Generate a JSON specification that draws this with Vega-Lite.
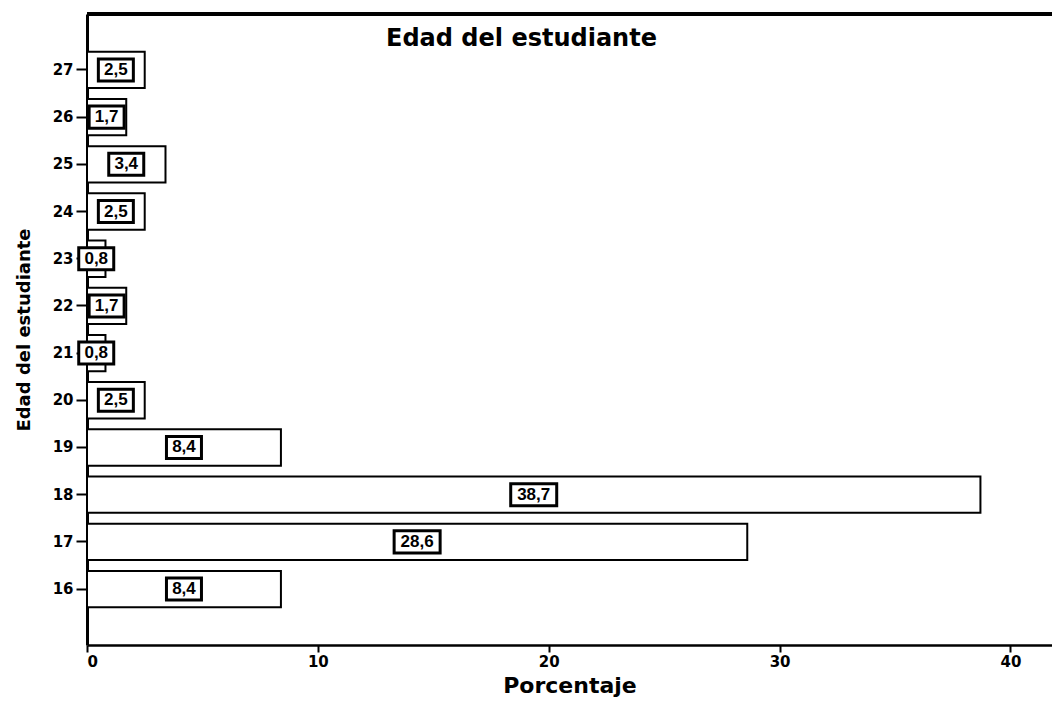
{
  "$schema": "https://vega.github.io/schema/vega-lite/v6.json",
  "width": 965,
  "height": 631,
  "autosize": {"type": "none"},
  "padding": {"left": 87, "top": 14, "right": 0, "bottom": 64},
  "background": "white",
  "config": {
    "view": {"stroke": null},
    "font": "DejaVu Sans",
    "locale": {"number": {"decimal": ",", "thousands": ".", "grouping": [3], "currency": ["", " €"]}}
  },
  "title": {
    "text": "Edad del estudiante",
    "fontSize": 24,
    "fontWeight": "bold",
    "font": "DejaVu Sans",
    "color": "black",
    "anchor": "middle",
    "frame": "group",
    "offset": -38,
    "dx": -48
  },
  "data": {
    "values": [
      {"edad": 16, "porcentaje": 8.4},
      {"edad": 17, "porcentaje": 28.6},
      {"edad": 18, "porcentaje": 38.7},
      {"edad": 19, "porcentaje": 8.4},
      {"edad": 20, "porcentaje": 2.5},
      {"edad": 21, "porcentaje": 0.8},
      {"edad": 22, "porcentaje": 1.7},
      {"edad": 23, "porcentaje": 0.8},
      {"edad": 24, "porcentaje": 2.5},
      {"edad": 25, "porcentaje": 3.4},
      {"edad": 26, "porcentaje": 1.7},
      {"edad": 27, "porcentaje": 2.5}
    ]
  },
  "encoding": {
    "y": {
      "field": "edad",
      "type": "ordinal",
      "sort": "descending",
      "scale": {"paddingInner": 0.23, "paddingOuter": 0.8},
      "axis": {
        "title": "Edad del estudiante",
        "titleFont": "DejaVu Sans",
        "titleFontSize": 18,
        "titleFontWeight": "bold",
        "titleColor": "black",
        "titlePadding": 19,
        "labelFont": "DejaVu Sans",
        "labelFontSize": 15,
        "labelFontWeight": "bold",
        "labelColor": "black",
        "labelPadding": 3,
        "tickSize": 11,
        "tickWidth": 2,
        "tickColor": "black",
        "domainColor": "black",
        "domainWidth": 3,
        "labelAngle": 0
      }
    }
  },
  "resolve": {"scale": {"x": "independent"}},
  "layer": [
    {
      "mark": {"type": "bar", "fill": "white", "stroke": "black", "strokeWidth": 2},
      "encoding": {
        "x": {
          "field": "porcentaje",
          "type": "quantitative",
          "scale": {"domain": [0, 41.8], "nice": false, "zero": true},
          "axis": {
            "title": "Porcentaje",
            "titleFont": "DejaVu Sans",
            "titleFontSize": 22,
            "titleFontWeight": "bold",
            "titleColor": "black",
            "titlePadding": 6,
            "labelFont": "DejaVu Sans",
            "labelFontSize": 15,
            "labelFontWeight": "bold",
            "labelColor": "black",
            "labelPadding": 2,
            "values": [0, 10, 20, 30, 40],
            "grid": false,
            "tickSize": 7,
            "tickWidth": 2,
            "tickColor": "black",
            "domainColor": "black",
            "domainWidth": 2.5
          }
        }
      }
    },
    {
      "mark": {"type": "rule", "stroke": "black", "strokeWidth": 3},
      "encoding": {
        "x": {"datum": 0, "type": "quantitative", "scale": {"domain": [0, 41.8], "nice": false}, "axis": null},
        "x2": {"datum": 41.8},
        "y": {"value": 0}
      }
    },
    {
      "transform": [{"filter": "datum.porcentaje < 10"}],
      "mark": {
        "type": "point",
        "shape": "M-1,-0.63L1,-0.63L1,0.63L-1,0.63Z",
        "size": 1225,
        "filled": true,
        "fill": "white",
        "stroke": "black",
        "strokeWidth": 3,
        "opacity": 1
      },
      "encoding": {
        "x": {"field": "porcentaje", "type": "quantitative", "scale": {"domain": [0, 83.6], "nice": false, "zero": true}, "axis": null}
      }
    },
    {
      "transform": [{"filter": "datum.porcentaje >= 10"}],
      "mark": {
        "type": "point",
        "shape": "M-1,-0.48L1,-0.48L1,0.48L-1,0.48Z",
        "size": 2116,
        "filled": true,
        "fill": "white",
        "stroke": "black",
        "strokeWidth": 3,
        "opacity": 1
      },
      "encoding": {
        "x": {"field": "porcentaje", "type": "quantitative", "scale": {"domain": [0, 83.6], "nice": false, "zero": true}, "axis": null}
      }
    },
    {
      "mark": {"type": "text", "fontSize": 17, "fontWeight": "bold", "color": "black", "font": "Liberation Sans"},
      "encoding": {
        "x": {"field": "porcentaje", "type": "quantitative", "scale": {"domain": [0, 83.6], "nice": false, "zero": true}, "axis": null},
        "text": {"field": "porcentaje", "type": "quantitative", "format": ".1f"}
      }
    }
  ]
}
